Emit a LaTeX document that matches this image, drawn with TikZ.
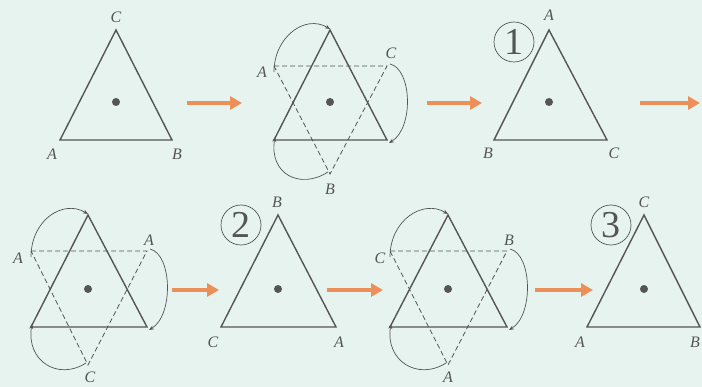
\documentclass[tikz,border=0pt]{standalone}
\usepackage{fontspec}
\setmainfont{Liberation Serif}
\usetikzlibrary{arrows.meta}
\definecolor{PageBg}{RGB}{230,243,239}
\definecolor{EdgeGray}{RGB}{85,85,85}
\definecolor{StepOrange}{RGB}{236,143,88}
\tikzset{
  tri/.style={draw=EdgeGray, line width=1.4pt, line join=miter},
  ghost/.style={draw=EdgeGray, line width=0.8pt, dash pattern=on 5pt off 3pt},
  turn/.style={-{Stealth[length=5pt,width=4pt]}, draw=EdgeGray, line width=0.7pt},
  flowarr/.style={-{Triangle[length=12pt,width=13pt]}, draw=StepOrange, line width=4pt},
  lab/.style={font=\fontsize{16}{16}\selectfont\itshape, text=EdgeGray, inner sep=1pt},
  num/.style={draw=EdgeGray, circle, minimum size=40pt, inner sep=0pt, line width=0.7pt,
              font=\fontsize{38}{38}\selectfont, text=EdgeGray},
  pivot/.style={fill=EdgeGray, circle, inner sep=0pt, minimum size=8pt}
}

\begin{document}
\begin{tikzpicture}[x=1pt,y=-1pt]
\useasboundingbox[fill=PageBg] (0,0) rectangle (702,387);

% ---- first row ----
% start position
\coordinate (t1a) at (116,30);
\coordinate (t1l) at (60,140);
\coordinate (t1r) at (172,140);
\draw[tri] (t1a) -- (t1l) -- (t1r) -- cycle;
\node[pivot] (t1o) at (116,102) {};
\node[lab] (t1C) at (116,17) {C};
\node[lab] (t1A) at (52,154) {A};
\node[lab] (t1B) at (177,154) {B};

% first turn
\coordinate (t2a) at (330,30);
\coordinate (t2l) at (274,140);
\coordinate (t2r) at (387,140);
\coordinate (g2l) at (274,66);
\coordinate (g2r) at (387,66);
\coordinate (g2b) at (330,174);
\draw[ghost] (g2l) -- (g2r) -- (g2b) -- cycle;
\draw[tri] (t2a) -- (t2l) -- (t2r) -- cycle;
\node[pivot] (t2o) at (330,102) {};
\node[lab] (g2A) at (262,72) {A};
\node[lab] (g2C) at (391,53) {C};
\node[lab] (g2B) at (330,189) {B};
\draw[turn] ([yshift=-6pt]g2l) .. controls +(0,-35) and +(-25,-15) .. ([yshift=1pt]t2a);
\draw[turn] ([xshift=3pt,yshift=2pt]g2r) .. controls +(22,5) and +(25,-15) .. ([xshift=2pt,yshift=-3pt]t2r);
\draw[turn] ([xshift=-2pt,yshift=2pt]g2b) .. controls +(-28,18) and +(-6,37) .. ([xshift=1pt,yshift=3pt]t2l);

% result 1
\coordinate (t3a) at (549,30);
\coordinate (t3l) at (494,140);
\coordinate (t3r) at (607,140);
\draw[tri] (t3a) -- (t3l) -- (t3r) -- cycle;
\node[pivot] (t3o) at (549,102) {};
\node[num] (n1) at (514,42) {1};
\node[lab] (t3A) at (549,15) {A};
\node[lab] (t3B) at (488,153) {B};
\node[lab] (t3C) at (614,153) {C};

\coordinate (p1) at (187,103);
\coordinate (q1) at (242,103);
\coordinate (p2) at (427,103);
\coordinate (q2) at (482,103);
\coordinate (p3) at (640,103);
\coordinate (q3) at (700,103);
\draw[flowarr] (p1) -- (q1);
\draw[flowarr] (p2) -- (q2);
\draw[flowarr] (p3) -- (q3);

% ---- second row ----
% second turn
\coordinate (t4a) at (88,215);
\coordinate (t4l) at (31,327);
\coordinate (t4r) at (147,327);
\coordinate (g4l) at (31,251);
\coordinate (g4r) at (147,251);
\coordinate (g4b) at (88,365);
\draw[ghost] (g4l) -- (g4r) -- (g4b) -- cycle;
\draw[tri] (t4a) -- (t4l) -- (t4r) -- cycle;
\node[pivot] (t4o) at (88,289) {};
\node[lab] (g4A) at (18,258) {A};
\node[lab] (g4Ar) at (149,240) {A};
\node[lab] (g4C) at (90,377) {C};
\draw[turn] ([yshift=-6pt]g4l) .. controls +(0,-37) and +(-25,-15) .. ([yshift=1pt]t4a);
\draw[turn] ([xshift=3pt,yshift=2pt]g4r) .. controls +(22,5) and +(25,-15) .. ([xshift=2pt,yshift=-3pt]t4r);
\draw[turn] ([xshift=-2pt,yshift=2pt]g4b) .. controls +(-28,18) and +(-6,37) .. ([xshift=1pt,yshift=3pt]t4l);

% result 2
\coordinate (t5a) at (278,215);
\coordinate (t5l) at (221,327);
\coordinate (t5r) at (336,327);
\draw[tri] (t5a) -- (t5l) -- (t5r) -- cycle;
\node[pivot] (t5o) at (278,289) {};
\node[num] (n2) at (241,225) {2};
\node[lab] (t5B) at (277,202) {B};
\node[lab] (t5C) at (213,342) {C};
\node[lab] (t5A) at (339,342) {A};

% third turn
\coordinate (t6a) at (448,215);
\coordinate (t6l) at (390,327);
\coordinate (t6r) at (507,327);
\coordinate (g6l) at (390,251);
\coordinate (g6r) at (507,251);
\coordinate (g6b) at (448,365);
\draw[ghost] (g6l) -- (g6r) -- (g6b) -- cycle;
\draw[tri] (t6a) -- (t6l) -- (t6r) -- cycle;
\node[pivot] (t6o) at (448,289) {};
\node[lab] (g6C) at (380,258) {C};
\node[lab] (g6B) at (509,240) {B};
\node[lab] (g6A) at (448,377) {A};
\draw[turn] ([yshift=-6pt]g6l) .. controls +(0,-37) and +(-25,-15) .. ([yshift=1pt]t6a);
\draw[turn] ([xshift=3pt,yshift=2pt]g6r) .. controls +(22,5) and +(25,-15) .. ([xshift=2pt,yshift=-3pt]t6r);
\draw[turn] ([xshift=-2pt,yshift=2pt]g6b) .. controls +(-28,18) and +(-6,37) .. ([xshift=1pt,yshift=3pt]t6l);

% result 3
\coordinate (t7a) at (644,215);
\coordinate (t7l) at (587,327);
\coordinate (t7r) at (700,327);
\draw[tri] (t7a) -- (t7l) -- (t7r) -- cycle;
\node[pivot] (t7o) at (644,289) {};
\node[num] (n3) at (611,225) {3};
\node[lab] (t7C) at (644,202) {C};
\node[lab] (t7A) at (580,342) {A};
\node[lab] (t7B) at (695,342) {B};

\coordinate (p4) at (172,290);
\coordinate (q4) at (219,290);
\coordinate (p5) at (327,290);
\coordinate (q5) at (383,290);
\coordinate (p6) at (535,290);
\coordinate (q6) at (593,290);
\draw[flowarr] (p4) -- (q4);
\draw[flowarr] (p5) -- (q5);
\draw[flowarr] (p6) -- (q6);
\end{tikzpicture}
\end{document}
